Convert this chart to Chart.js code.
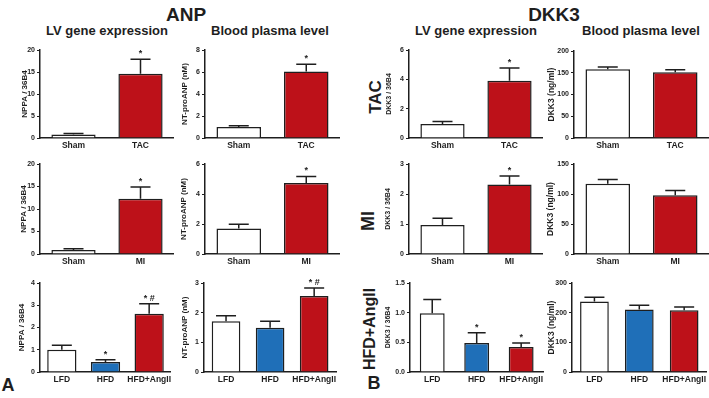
<!DOCTYPE html>
<html>
<head>
<meta charset="utf-8">
<script src="https://cdn.jsdelivr.net/npm/chart.js@4.4.0/dist/chart.umd.min.js"></script>
<style>
body { margin: 0; background: #fff; }
#fig { position: relative; width: 709px; height: 398px; overflow: hidden; font-family: "Liberation Sans", Arial, sans-serif; color: #1e1e1e; }
.t { position: absolute; font-weight: bold; white-space: nowrap; transform: translate(-50%, -50%); line-height: 1; }
.r { transform: translate(-50%, -50%) rotate(-90deg); }
canvas { position: absolute; }
</style>
</head>
<body>
<div id="fig">
  <div class="t" style="left:186px;top:14px;font-size:19px">ANP</div>
  <div class="t" style="left:554px;top:14px;font-size:19px">DKK3</div>
  <div class="t" style="left:107px;top:30px;font-size:13px">LV gene expression</div>
  <div class="t" style="left:270px;top:30px;font-size:13px">Blood plasma level</div>
  <div class="t" style="left:476px;top:30px;font-size:13px">LV gene expression</div>
  <div class="t" style="left:641px;top:30px;font-size:13px">Blood plasma level</div>
  <div class="t r" style="left:375px;top:97px;font-size:17px">TAC</div>
  <div class="t r" style="left:368px;top:221px;font-size:18px">MI</div>
  <div class="t r" style="left:370px;top:329px;font-size:16px">HFD+AngII</div>
  <div class="t" style="left:8px;top:385px;font-size:18px">A</div>
  <div class="t" style="left:374px;top:383px;font-size:18px">B</div>
</div>
<script>
// groups
const tacGroups = ["Sham", "TAC"];
const miGroups = ["Sham", "MI"];
const dietGroups = ["LFD", "HFD", "HFD+AngII"];

// ANP - LV gene expression
const anpLvTac = [0.8, 14.6];
const anpLvTacErr = [0.25, 3.3];
const anpLvTacSig = ["", "*"];
const anpLvMi = [0.9, 12.3];
const anpLvMiErr = [0.25, 2.6];
const anpLvMiSig = ["", "*"];
const anpLvDiet = [1.0, 0.45, 2.62];
const anpLvDietErr = [0.2, 0.1, 0.45];
const anpLvDietSig = ["", "*", "* #"];

// ANP - blood plasma
const anpPlTac = [1.0, 6.05];
const anpPlTacErr = [0.12, 0.65];
const anpPlTacSig = ["", "*"];
const anpPlMi = [1.7, 4.73];
const anpPlMiErr = [0.29, 0.44];
const anpPlMiSig = ["", "*"];
const anpPlDiet = [1.71, 1.49, 2.56];
const anpPlDietErr = [0.19, 0.22, 0.27];
const anpPlDietSig = ["", "", "* #"];

// DKK3 - LV gene expression
const dkkLvTac = [0.95, 3.9];
const dkkLvTacErr = [0.17, 0.87];
const dkkLvTacSig = ["", "*"];
const dkkLvMi = [0.97, 2.32];
const dkkLvMiErr = [0.22, 0.28];
const dkkLvMiSig = ["", "*"];
const dkkLvDiet = [0.99, 0.49, 0.42];
const dkkLvDietErr = [0.23, 0.17, 0.07];
const dkkLvDietSig = ["", "*", "*"];

// DKK3 - blood plasma
const dkkPlTac = [158, 151];
const dkkPlTacErr = [5, 6];
const dkkPlMi = [117, 98];
const dkkPlMiErr = [7, 8];
const dkkPlDiet = [238, 211, 208];
const dkkPlDietErr = [14, 14, 11];
const noSig = ["", "", ""];

// axis ticks
const anpLvTicks = ["0", "5", "10", "15", "20"];
const anpLvDietTicks = ["0", "1", "2", "3", "4"];
const anpPlTacTicks = ["0", "2", "4", "6", "8"];
const anpPlMiTicks = ["0", "2", "4", "6"];
const anpPlDietTicks = ["0", "1", "2", "3"];
const dkkLvTacTicks = ["0", "2", "4", "6"];
const dkkLvMiTicks = ["0", "1", "2", "3"];
const dkkLvDietTicks = ["0.0", "0.5", "1.0", "1.5"];
const dkkPlTacTicks = ["0", "50", "100", "150", "200"];
const dkkPlMiTicks = ["0", "50", "100", "150"];
const dkkPlDietTicks = ["0", "100", "200", "300"];

const FONT = '"Liberation Sans", Arial, sans-serif';
const INK = "#1e1e1e";
const RED = "#bd1119";
const BLUE = "#1f6fb8";
const WHITE = "#ffffff";

// error bars + significance marks
const errorBars = {
	id: "errorBars",
	afterDatasetsDraw(chart) {
		const ctx = chart.ctx;
		const y = chart.scales.y;
		const ds = chart.data.datasets[0];
		const meta = chart.getDatasetMeta(0);
		ctx.save();
		ctx.strokeStyle = INK;
		ctx.lineWidth = 1.5;
		ctx.fillStyle = INK;
		ctx.font = "bold 9px " + FONT;
		ctx.textAlign = "center";
		ctx.textBaseline = "bottom";
		meta.data.forEach((bar, i) => {
			const top = y.getPixelForValue(ds.data[i] + ds.errors[i]);
			const half = Math.min(10, bar.width * 0.36);
			ctx.beginPath();
			ctx.moveTo(bar.x, bar.y);
			ctx.lineTo(bar.x, top);
			ctx.moveTo(bar.x - half, top);
			ctx.lineTo(bar.x + half, top);
			ctx.stroke();
			if (ds.marks[i]) ctx.fillText(ds.marks[i], bar.x, top - 1);
		});
		ctx.restore();
	},
};

const panels = [
	{ left: 40, right: 174, top: 50, zero: 138, titleX: 25, titleSize: 8, title: "NPPA / 36B4", labels: tacGroups, values: anpLvTac, errors: anpLvTacErr, marks: anpLvTacSig, ticks: anpLvTicks, colors: [WHITE, RED], bar: 0.66 },
	{ left: 205, right: 340, top: 50, zero: 138, titleX: 185, titleSize: 8, title: "NT-proANP (nM)", labels: tacGroups, values: anpPlTac, errors: anpPlTacErr, marks: anpPlTacSig, ticks: anpPlTacTicks, colors: [WHITE, RED], bar: 0.66 },
	{ left: 40, right: 174, top: 164, zero: 254, titleX: 24, titleSize: 8, title: "NPPA / 36B4", labels: miGroups, values: anpLvMi, errors: anpLvMiErr, marks: anpLvMiSig, ticks: anpLvTicks, colors: [WHITE, RED], bar: 0.66 },
	{ left: 205, right: 340, top: 164, zero: 254, titleX: 184, titleSize: 8, title: "NT-proANP (nM)", labels: miGroups, values: anpPlMi, errors: anpPlMiErr, marks: anpPlMiSig, ticks: anpPlMiTicks, colors: [WHITE, RED], bar: 0.66 },
	{ left: 40, right: 174, top: 283, zero: 372, titleX: 22, titleSize: 8, title: "NPPA / 36B4", labels: dietGroups, values: anpLvDiet, errors: anpLvDietErr, marks: anpLvDietSig, ticks: anpLvDietTicks, colors: [WHITE, BLUE, RED], bar: 0.67 },
	{ left: 204, right: 339, top: 283, zero: 372, titleX: 185, titleSize: 8, title: "NT-proANP (nM)", labels: dietGroups, values: anpPlDiet, errors: anpPlDietErr, marks: anpPlDietSig, ticks: anpPlDietTicks, colors: [WHITE, BLUE, RED], bar: 0.65 },
	{ left: 409, right: 543, top: 50, zero: 138, titleX: 389, titleSize: 7, title: "DKK3 / 36B4", labels: tacGroups, values: dkkLvTac, errors: dkkLvTacErr, marks: dkkLvTacSig, ticks: dkkLvTacTicks, colors: [WHITE, RED], bar: 0.66 },
	{ left: 574, right: 709, top: 51, zero: 138, titleX: 551, titleSize: 8.5, title: "DKK3 (ng/ml)", labels: tacGroups, values: dkkPlTac, errors: dkkPlTacErr, marks: noSig, ticks: dkkPlTacTicks, colors: [WHITE, RED], bar: 0.66 },
	{ left: 409, right: 543, top: 164, zero: 254, titleX: 388, titleSize: 7, title: "DKK3 / 36B4", labels: miGroups, values: dkkLvMi, errors: dkkLvMiErr, marks: dkkLvMiSig, ticks: dkkLvMiTicks, colors: [WHITE, RED], bar: 0.66 },
	{ left: 574, right: 709, top: 164, zero: 254, titleX: 550, titleSize: 8.5, title: "DKK3 (ng/ml)", labels: miGroups, values: dkkPlMi, errors: dkkPlMiErr, marks: noSig, ticks: dkkPlMiTicks, colors: [WHITE, RED], bar: 0.66 },
	{ left: 410, right: 546, top: 283, zero: 372, titleX: 388, titleSize: 7, title: "DKK3 / 36B4", labels: dietGroups, values: dkkLvDiet, errors: dkkLvDietErr, marks: dkkLvDietSig, ticks: dkkLvDietTicks, colors: [WHITE, BLUE, RED], bar: 0.56 },
	{ left: 572, right: 709, top: 283, zero: 372, titleX: 551, titleSize: 8.5, title: "DKK3 (ng/ml)", labels: dietGroups, values: dkkPlDiet, errors: dkkPlDietErr, marks: noSig, ticks: dkkPlDietTicks, colors: [WHITE, BLUE, RED], bar: 0.64 },
];

const fig = document.getElementById("fig");

function buildPanel(p) {
	const canvasLeft = Math.round(p.titleX - p.titleSize / 2);
	const canvasTop = p.top - 8;
	const canvas = document.createElement("canvas");
	canvas.width = p.right - canvasLeft;
	canvas.height = p.zero - canvasTop + 16;
	canvas.style.left = canvasLeft + "px";
	canvas.style.top = canvasTop + "px";
	fig.appendChild(canvas);

	const tickVals = p.ticks.map(Number);

	new Chart(canvas.getContext("2d"), {
		type: "bar",
		data: {
			labels: p.labels,
			datasets: [{
				data: p.values,
				errors: p.errors,
				marks: p.marks,
				backgroundColor: p.colors,
				borderColor: INK,
				borderWidth: 1.5,
				barPercentage: p.bar,
				categoryPercentage: 1,
			}],
		},
		options: {
			responsive: false,
			animation: false,
			devicePixelRatio: 1,
			layout: { padding: { top: 8, left: 0, right: 0, bottom: 0 } },
			plugins: {
				legend: { display: false },
				tooltip: { enabled: false },
			},
			scales: {
				x: {
					grid: { display: false, drawTicks: false },
					border: { color: INK, width: 1.5 },
					ticks: {
						color: INK,
						padding: 3,
						maxRotation: 0,
						autoSkip: false,
						font: { family: FONT, size: 8.5, weight: "bold" },
					},
					afterFit: (s) => { s.height = 16; },
				},
				y: {
					min: tickVals[0],
					max: tickVals[tickVals.length - 1],
					ticks: {
						stepSize: tickVals[1] - tickVals[0],
						color: INK,
						padding: 2,
						font: { family: FONT, size: 7, weight: "bold" },
						callback: (v, i) => p.ticks[i],
					},
					grid: { drawOnChartArea: false, tickLength: 3, color: INK, lineWidth: 1 },
					border: { color: INK, width: 1.5 },
					title: {
						display: true,
						text: p.title,
						color: INK,
						padding: 0,
						font: { family: FONT, size: p.titleSize, weight: "bold", lineHeight: 1 },
					},
					afterFit: (s) => { s.width = p.left - canvasLeft; },
				},
			},
		},
		plugins: [errorBars],
	});
}

panels.forEach(buildPanel);
</script>
</body>
</html>
